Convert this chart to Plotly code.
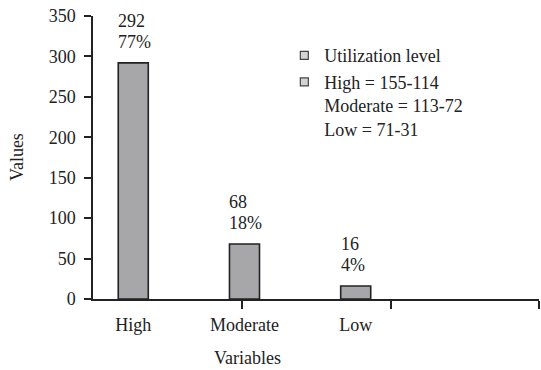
import plotly.graph_objects as go

categories = ["High", "Moderate", "Low"]
values = [292, 68, 16]
percents = ["77%", "18%", "4%"]
legend_title = "Utilization level"
legend_ranges = ["High = 155-114", "Moderate = 113-72", "Low = 71-31"]
y_ticks = [0, 50, 100, 150, 200, 250, 300, 350]
x_title = "Variables"
y_title = "Values"

positions = list(range(len(categories)))
BAR_WIDTH = 0.27
FONT = "Liberation Serif, Times New Roman, serif"
TXT = "#222222"
BAR = "#a7a7aa"
FS = 18

fig = go.Figure()
fig.add_trace(go.Bar(
    x=positions, y=values, width=BAR_WIDTH,
    marker=dict(color=BAR, line=dict(color="#222222", width=1.6)),
    showlegend=False, hoverinfo="skip",
))
for name in [legend_title, "<br>".join(legend_ranges)]:
    fig.add_trace(go.Scatter(
        x=[None], y=[None], mode="markers", name=name,
        marker=dict(symbol="square", size=8, color="#d4d4d6",
                    line=dict(color="#444444", width=1.2)),
    ))

for p, v, pc in zip(positions, values, percents):
    left = p - BAR_WIDTH / 2
    fig.add_annotation(x=left, y=v, text=pc, showarrow=False, xanchor="left",
                       yanchor="middle", yshift=21, xshift=-2,
                       font=dict(size=FS, color=TXT, family=FONT))
    fig.add_annotation(x=left, y=v, text=str(v), showarrow=False, xanchor="left",
                       yanchor="middle", yshift=42, xshift=-2,
                       font=dict(size=FS, color=TXT, family=FONT))

fig.add_annotation(xref="paper", yref="paper", x=0.3475, y=-0.208, text=x_title,
                   xanchor="center", yanchor="middle",
                   showarrow=False, font=dict(size=FS, color=TXT, family=FONT))
fig.add_annotation(xref="paper", yref="paper", x=-0.170, y=0.502, text=y_title, textangle=-90,
                   xanchor="center", yanchor="middle",
                   showarrow=False, font=dict(size=FS, color=TXT, family=FONT))

fig.update_layout(
    width=541, height=370,
    margin=dict(l=93, r=2, t=16, b=71, autoexpand=False),
    paper_bgcolor="white", plot_bgcolor="white",
    font=dict(family=FONT, size=FS, color=TXT),
    legend=dict(x=0.429, y=0.925, xanchor="left", yanchor="top",
                bgcolor="rgba(0,0,0,0)", valign="top", tracegroupgap=0,
                font=dict(size=FS, color=TXT, family=FONT)),
    xaxis=dict(range=[-0.362, 3.648], tickmode="array", tickvals=positions, ticktext=categories,
               ticks="", showline=True, linecolor="#222222", linewidth=1.5, showgrid=False,
               zeroline=False, ticklabelstandoff=9, automargin=False, ticklabeloverflow="allow",
               minor=dict(tickmode="array", tickvals=[0.977, 2.317, 3.645], ticks="outside",
                          ticklen=8, tickcolor="#222222", tickwidth=1.5, showgrid=False)),
    yaxis=dict(range=[0, 350], tickmode="array", tickvals=y_ticks, ticks="outside", ticklen=7,
               tickcolor="#222222", tickwidth=1.5, showline=True, linecolor="#222222",
               linewidth=1.5, showgrid=False, zeroline=False, ticklabelstandoff=5,
               automargin=False, ticklabeloverflow="allow"),
)

fig.write_html("out.html", config={"displayModeBar": False},
               post_script="document.body.style.margin='0';document.body.style.overflow='hidden';")
